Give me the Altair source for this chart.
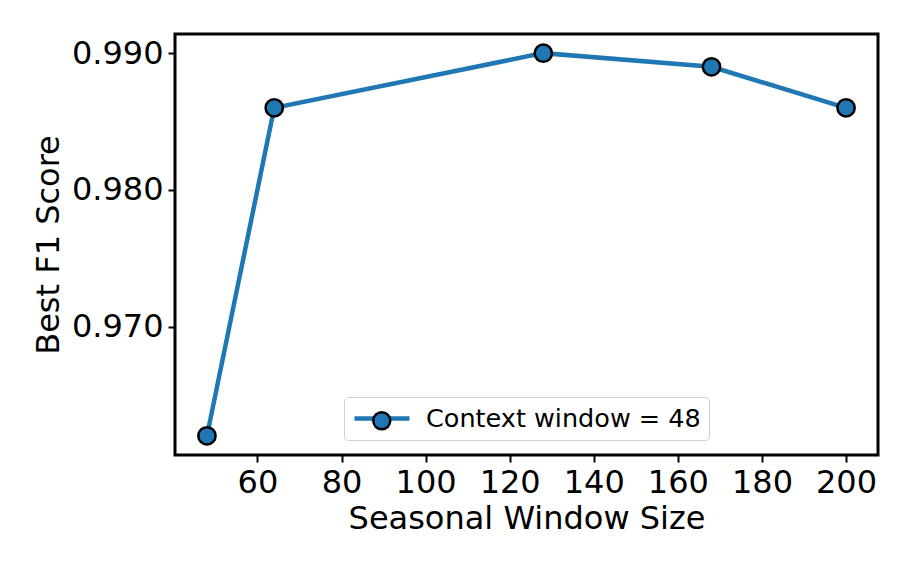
import altair as alt
import pandas as pd

seasonal_window = [48, 64, 128, 168, 200]
best_f1 = [0.962, 0.986, 0.990, 0.989, 0.986]
series_name = ["Context window = 48"] * 5
x_ticks = [60, 80, 100, 120, 140, 160, 180, 200]
y_ticks = [0.970, 0.980, 0.990]

df = pd.DataFrame({"x": seasonal_window, "y": best_f1, "s": series_name, "s2": series_name})

font = "DejaVu Sans"
blue = "#1f77b4"

x_enc = alt.X("x:Q", scale=alt.Scale(domain=[40.4, 207.6], nice=False, zero=False),
              axis=alt.Axis(title="Seasonal Window Size", values=x_ticks, format="d"))
y_enc = alt.Y("y:Q", scale=alt.Scale(domain=[0.9606, 0.9914], nice=False, zero=False),
              axis=alt.Axis(title="Best F1 Score", values=y_ticks, format=".3f"))

line = alt.Chart(df).mark_line(strokeWidth=4.5).encode(
    x=x_enc,
    y=y_enc,
    stroke=alt.Stroke("s:N", scale=alt.Scale(range=[blue]),
                      legend=alt.Legend(title=None, orient="none", legendX=169, legendY=363,
                                        symbolType="stroke", symbolSize=3025,
                                        symbolStrokeWidth=4.5, labelOffset=14,
                                        clipHeight=27,
                                        strokeColor="#d0d0d0", fillColor="white",
                                        padding=8, cornerRadius=4, labelLimit=400)),
)

points = alt.Chart(df).mark_point(filled=True, stroke="black", strokeWidth=2.5, size=300, opacity=1).encode(
    x=x_enc,
    y=y_enc,
    fill=alt.Fill("s2:N", scale=alt.Scale(range=[blue]),
                  legend=alt.Legend(title=None, orient="none", legendX=194, legendY=374,
                                    symbolType="circle", symbolSize=289,
                                    symbolStrokeColor="black", symbolStrokeWidth=2.5,
                                    symbolFillColor=blue, symbolOpacity=1,
                                    labelExpr="''", labelOffset=0,
                                    strokeColor="transparent", fillColor="transparent",
                                    padding=0)),
)

chart = alt.layer(line, points).properties(
    width=703,
    height=421,
    autosize=alt.AutoSizeParams(type="none"),
    padding={"left": 167, "top": 26, "right": 20, "bottom": 100},
).configure_view(
    stroke="black", strokeWidth=3
).configure_axis(
    domain=False,
    grid=False,
    tickColor="black",
    tickWidth=2,
    tickSize=7,
    labelFont=font,
    labelFontSize=32,
    labelColor="black",
    labelPadding=5,
    titleFont=font,
    titleFontSize=32,
    titleFontWeight="normal",
    titleColor="black",
).configure_axisX(titlePadding=5).configure_axisY(titlePadding=6).configure_legend(
    labelFont=font,
    labelFontSize=25.5,
    labelColor="black",
)

chart.save("out.html", embed_options={"renderer": "svg", "actions": False})
